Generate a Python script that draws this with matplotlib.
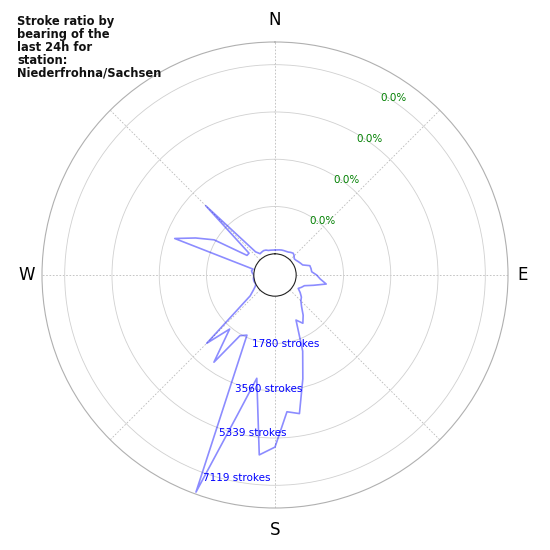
import numpy as np
import matplotlib
matplotlib.use("Agg")
import matplotlib.pyplot as plt

# strokes per 5 degree bearing bin (0 = N, clockwise)
bearings = np.arange(0, 360, 5)
strokes = [144, 150, 163, 175, 180, 185, 200, 240, 272, 220,
           150, 170, 212, 260, 310, 560, 580, 590, 770, 910,
           1160, 700, 380, 300, 212, 360, 500, 580, 760, 1050,
           1300, 1074, 2250, 3250, 4500, 4370, 5680, 6000, 3150, 4640,
           7900, 1700, 1840, 3210, 1860, 2840, 420, 197, 60, 0,
           20, 30, 27, 10, 0, 60, 100, 57, 3220, 2500,
           1850, 490, 480, 2890, 340, 182, 200, 216, 200, 160,
           152, 145]
ring_values = [1780, 3560, 5339, 7119]
ring_pct = ["0.0%", "0.0%", "0.0%", "0.0%"]
compass = ["N", "E", "S", "W"]
title = "Stroke ratio by\nbearing of the\nlast 24h for\nstation:\nNiederfrohna/Sachsen"

rmax = ring_values[-1] * 1.12

fig = plt.figure(figsize=(5.5, 5.5), dpi=100)
ax = fig.add_axes([42 / 550, 42 / 550, 466 / 550, 466 / 550], projection="polar")
ax.set_theta_zero_location("N")
ax.set_theta_direction(-1)

theta = np.radians(np.append(bearings, bearings[0]))
r = np.append(strokes, strokes[0])
ax.plot(theta, r, color="blue", alpha=0.45, lw=1.2)

ax.set_ylim(0, rmax)
ax.set_rorigin(-0.1 * rmax)
ax.set_yticks(ring_values)
ax.set_yticklabels([])
ax.set_xticks(np.radians(np.arange(0, 360, 45)))
ax.set_xticklabels([])

# compass letters sit a bit outside the outer circle
for name, (x, y) in zip(compass, [(0.5, 1.047), (1.032, 0.5), (0.5, -0.047), (-0.032, 0.5)]):
    ax.text(x, y, name, transform=ax.transAxes, fontsize=12,
            ha="center", va="center")

ax.xaxis.grid(True, color="#bbbbbb", lw=0.6, linestyle=(0, (2, 2)))
ax.yaxis.grid(True, color="#d0d0d0", lw=0.6, linestyle="-")
ax.spines["polar"].set_color("#b0b0b0")
ax.spines["polar"].set_linewidth(0.8)
ax.spines["inner"].set_color("#222222")
ax.spines["inner"].set_linewidth(0.8)

for v, p in zip(ring_values, ring_pct):
    ax.text(np.radians(200), v, "{} strokes".format(v), color="blue",
            fontsize=7.5, ha="left", va="top")
    ax.text(np.radians(30), v, p, color="green", fontsize=7.5,
            ha="left", va="top")

fig.text(17 / 550, 1 - 15 / 550, title, fontsize=8.3, fontweight="bold",
         color="#111111", ha="left", va="top", linespacing=1.0)

fig.savefig("out.png", dpi=100, facecolor="white")
